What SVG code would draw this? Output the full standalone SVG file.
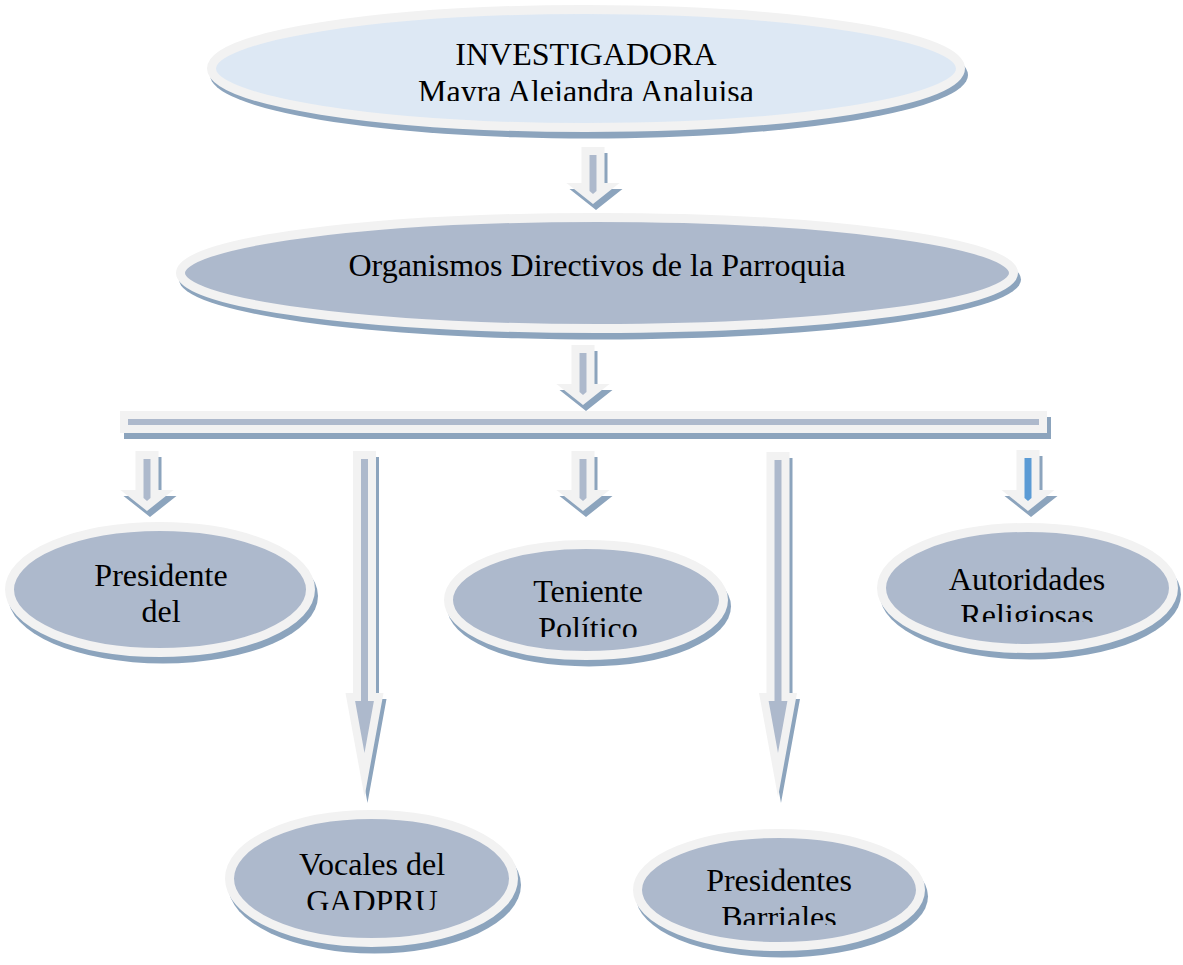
<svg xmlns="http://www.w3.org/2000/svg" width="1183" height="965" viewBox="0 0 1183 965">
<style>
.sh{fill:#8CA4BD;filter:url(#soft)}
.lt{fill:#F2F2F2}
.in{fill:#ADB9CC}
.inb{fill:#5B9BD5}
.ring{stroke:#F2F2F2;stroke-width:9;fill:#ADB9CC}
.ring.top{fill:#DDE8F4}
.lbl{font-family:"Liberation Serif","Times New Roman",serif;font-size:32px;fill:#000;text-anchor:middle}
</style>
<defs>
<filter id="soft" x="-5%" y="-5%" width="110%" height="110%"><feGaussianBlur stdDeviation="0.7"/></filter>
<clipPath id="c1"><rect x="0" y="0" width="1183" height="101"/></clipPath>
<clipPath id="c4"><rect x="0" y="0" width="1183" height="637"/></clipPath>
<clipPath id="c5"><rect x="0" y="0" width="1183" height="622"/></clipPath>
<clipPath id="c6"><rect x="0" y="0" width="1183" height="910"/></clipPath>
<clipPath id="c7"><rect x="0" y="0" width="1183" height="925"/></clipPath>
</defs>
<rect width="1183" height="965" fill="#FFFFFF"/>

<g id="connectors">
  <g id="arrow-1">
    <polygon class="sh" transform="translate(3,6)" points="581.5,147 604.5,147 604.5,183 619.5,183 593,204 566.5,183 581.5,183"/>
    <polygon class="lt" points="581.5,147 604.5,147 604.5,183 619.5,183 593,204 566.5,183 581.5,183"/>
    <polygon class="in" points="589.5,155 596.5,155 596.5,191 593,194 589.5,191"/>
  </g>
  <g id="arrow-2">
    <polygon class="sh" transform="translate(3,6)" points="571.5,345 594.5,345 594.5,384 609.5,384 583,405 556.5,384 571.5,384"/>
    <polygon class="lt" points="571.5,345 594.5,345 594.5,384 609.5,384 583,405 556.5,384 571.5,384"/>
    <polygon class="in" points="579.5,353 586.5,353 586.5,392 583,395 579.5,392"/>
  </g>
  <g id="bar">
    <rect class="sh" x="124" y="417" width="927" height="22"/>
    <rect class="lt" x="120" y="411" width="927" height="22"/>
    <rect class="in" x="128" y="419" width="911" height="6"/>
  </g>
  <g id="arrow-3">
    <polygon class="sh" transform="translate(3,6)" points="135.5,451 158.5,451 158.5,490 173.5,490 147,511 120.5,490 135.5,490"/>
    <polygon class="lt" points="135.5,451 158.5,451 158.5,490 173.5,490 147,511 120.5,490 135.5,490"/>
    <polygon class="in" points="143.5,459 150.5,459 150.5,498 147,501 143.5,498"/>
  </g>
  <g id="arrow-4">
    <polygon class="sh" transform="translate(3,6)" points="353,451 376,451 376,693 383.5,693 364.5,797 345.5,693 353,693"/>
    <polygon class="lt" points="353,451 376,451 376,693 383.5,693 364.5,797 345.5,693 353,693"/>
    <polygon class="in" points="361,459 368,459 368,701 373.9,701 364.5,753 355.1,701 361,701"/>
  </g>
  <g id="arrow-5">
    <polygon class="sh" transform="translate(3,6)" points="571.5,451 594.5,451 594.5,490 609.5,490 583,511 556.5,490 571.5,490"/>
    <polygon class="lt" points="571.5,451 594.5,451 594.5,490 609.5,490 583,511 556.5,490 571.5,490"/>
    <polygon class="in" points="579.5,459 586.5,459 586.5,498 583,501 579.5,498"/>
  </g>
  <g id="arrow-6">
    <polygon class="sh" transform="translate(3,6)" points="766.5,452 789.5,452 789.5,693 797,693 778,797 759,693 766.5,693"/>
    <polygon class="lt" points="766.5,452 789.5,452 789.5,693 797,693 778,797 759,693 766.5,693"/>
    <polygon class="in" points="774.5,460 781.5,460 781.5,701 787.4,701 778,753 768.6,701 774.5,701"/>
  </g>
  <g id="arrow-7">
    <polygon class="sh" transform="translate(3,6)" points="1016.5,450 1039.5,450 1039.5,490 1054.5,490 1028,511 1001.5,490 1016.5,490"/>
    <polygon class="lt" points="1016.5,450 1039.5,450 1039.5,490 1054.5,490 1028,511 1001.5,490 1016.5,490"/>
    <polygon class="inb" points="1024.5,458 1031.5,458 1031.5,498 1028,501 1024.5,498"/>
  </g>
</g>

<g id="node-investigadora">
  <ellipse class="sh" cx="589" cy="75" rx="379" ry="63.5"/>
  <ellipse class="ring top" cx="586" cy="68.5" rx="374.5" ry="59"/>
  <text class="lbl" x="586" y="65">INVESTIGADORA</text>
  <text class="lbl" x="586" y="102" clip-path="url(#c1)">Mayra Alejandra Analuisa</text>
</g>

<g id="node-organismos">
  <ellipse class="sh" cx="600" cy="279.5" rx="421" ry="60"/>
  <ellipse class="ring" cx="597" cy="273" rx="416.5" ry="55.5"/>
  <text class="lbl" x="597" y="276">Organismos Directivos de la Parroquia</text>
</g>

<g id="node-presidente">
  <ellipse class="sh" cx="163" cy="596" rx="155" ry="67.5"/>
  <ellipse class="ring" cx="160" cy="589.5" rx="150.5" ry="63"/>
  <text class="lbl" x="161" y="586">Presidente</text>
  <text class="lbl" x="161" y="622">del</text>
</g>

<g id="node-teniente">
  <ellipse class="sh" cx="589" cy="606.5" rx="142" ry="60"/>
  <ellipse class="ring" cx="586" cy="600" rx="137.5" ry="55.5"/>
  <text class="lbl" x="588" y="602">Teniente</text>
  <text class="lbl" x="588" y="639" clip-path="url(#c4)">Político</text>
</g>

<g id="node-autoridades">
  <ellipse class="sh" cx="1030.5" cy="594.5" rx="150.5" ry="65"/>
  <ellipse class="ring" cx="1027.5" cy="588" rx="146" ry="60.5"/>
  <text class="lbl" x="1027" y="590">Autoridades</text>
  <text class="lbl" x="1027" y="626" clip-path="url(#c5)">Religiosas</text>
</g>

<g id="node-vocales">
  <ellipse class="sh" cx="374.5" cy="885" rx="146.5" ry="68.5"/>
  <ellipse class="ring" cx="371.5" cy="878.5" rx="142" ry="64"/>
  <text class="lbl" x="372" y="875">Vocales del</text>
  <text class="lbl" x="372" y="912" clip-path="url(#c6)">GADPRU</text>
</g>

<g id="node-barriales">
  <ellipse class="sh" cx="782" cy="896.5" rx="146" ry="61"/>
  <ellipse class="ring" cx="779" cy="890" rx="141.5" ry="56.5"/>
  <text class="lbl" x="779" y="891">Presidentes</text>
  <text class="lbl" x="779" y="928" clip-path="url(#c7)">Barriales</text>
</g>
</svg>
